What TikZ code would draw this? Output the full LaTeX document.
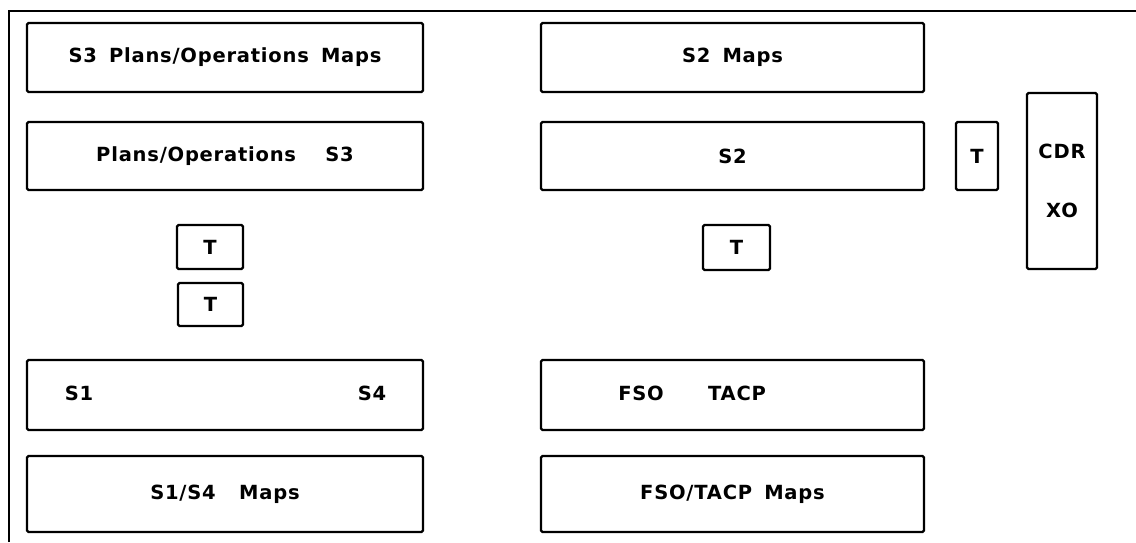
\documentclass[tikz,border=0pt]{standalone}
\usepackage{fontspec}
\setmainfont{DejaVu Sans}[LetterSpace=4, WordSpace=1.6]
\usepackage{tikz}

\tikzset{
  panel/.style={draw, line width=2.2pt, rounded corners=1.5pt, inner sep=0pt,
    font=\fontsize{19.5}{23}\selectfont\bfseries},
  tag/.style={inner sep=0pt, font=\fontsize{19.5}{23}\selectfont\bfseries}
}

\begin{document}
\begin{tikzpicture}[x=1pt,y=-1pt]
        \useasboundingbox (0,0) rectangle (1136,542);

        % Draw the room outline
        \draw[line width=2.2pt] (9,542) -- (9,11) -- (1136,11);

        % Left column
        \node[panel, minimum width=396, minimum height=69] (s3maps) at (225,57.5) {S3 Plans/Operations Maps};
        \node[panel, minimum width=396, minimum height=68] (plans) at (225,156) {Plans/Operations\hspace{1.5em}S3};
        \node[panel, minimum width=66, minimum height=44] (tup) at (210,247) {T};
        \node[panel, minimum width=65, minimum height=43] (tlow) at (210.5,304.5) {T};
        \node[panel, minimum width=396, minimum height=70] (s1s4) at (225,395) {};
        \node[tag] (s1) at (79,393) {S1};
        \node[tag] (s4) at (372,393) {S4};
        \node[panel, minimum width=396, minimum height=76] (s1s4maps) at (225,494) {S1/S4\hspace{1.2em}Maps};

        % Right column
        \node[panel, minimum width=383, minimum height=69] (s2maps) at (732.5,57.5) {S2 Maps};
        \node[panel, minimum width=383, minimum height=68] (s2) at (732.5,156) {S2};
        \node[panel, minimum width=67, minimum height=45] (tmid) at (736.5,247.5) {T};
        \node[panel, minimum width=383, minimum height=70] (fsotacp) at (732.5,395) {};
        \node[tag] (fso) at (641,393) {FSO};
        \node[tag] (tacp) at (737,393) {TACP};
        \node[panel, minimum width=383, minimum height=76] (fsomaps) at (732.5,494) {FSO/TACP Maps};

        % Command post
        \node[panel, minimum width=42, minimum height=68] (tcmd) at (977,156) {T};
        \node[panel, minimum width=70, minimum height=176, align=center] (cdr) at (1062,181) {CDR\\[36pt]XO};
    \end{tikzpicture}
\end{document}
